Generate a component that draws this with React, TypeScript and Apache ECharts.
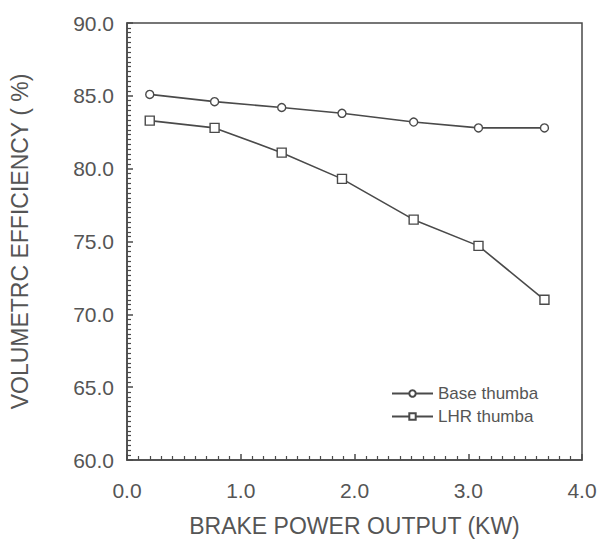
import React, { useEffect, useRef } from "react";
import * as echarts from "echarts";

const powerKW = [0.2, 0.77, 1.36, 1.89, 2.52, 3.09, 3.67];
const baseThumba = [85.1, 84.6, 84.2, 83.8, 83.2, 82.8, 82.8];
const lhrThumba = [83.3, 82.8, 81.1, 79.3, 76.5, 74.7, 71.0];
const seriesNames = ["Base thumba", "LHR thumba"];
const xTitle = "BRAKE POWER OUTPUT (KW)";
const yTitle = "VOLUMETRC EFFICIENCY ( %)";

const FONT = "'Liberation Sans', Arial, sans-serif";
const TEXT = "#555555";
const LINE = "#4a4a4a";

export default function App() {
  const ref = useRef<HTMLDivElement>(null);
  useEffect(() => {
    if (!ref.current) return;
    const chart = echarts.init(ref.current, undefined, { renderer: "svg" });
    const pair = (ys: number[]) => powerKW.map((x, i) => [x, ys[i]]);
    chart.setOption({
      animation: false,
      backgroundColor: "#ffffff",
      textStyle: { fontFamily: FONT },
      grid: {
        left: 125,
        right: 18,
        top: 23,
        bottom: 78,
        show: true,
        borderColor: LINE,
        borderWidth: 1.5,
        backgroundColor: "transparent",
      },
      legend: {
        left: 386,
        top: 380,
        orient: "vertical",
        itemWidth: 41,
        itemHeight: 8,
        itemGap: 6,
        data: seriesNames,
        textStyle: { fontFamily: FONT, fontSize: 17, color: TEXT },
      },
      xAxis: {
        type: "value",
        min: 0,
        max: 4,
        interval: 1,
        name: xTitle,
        nameLocation: "middle",
        nameGap: 54,
        nameTextStyle: { fontFamily: FONT, fontSize: 23, color: TEXT },
        axisLine: { show: true, lineStyle: { color: LINE, width: 1.5 } },
        axisTick: { show: true, inside: true, length: 6, lineStyle: { color: LINE, width: 1.5 } },
        minorTick: { show: true, splitNumber: 10, length: 4, lineStyle: { color: LINE, width: 1.2 } },
        axisLabel: {
          fontFamily: FONT,
          fontSize: 21,
          color: TEXT,
          margin: 20,
          formatter: (v: number) => v.toFixed(1),
        },
        splitLine: { show: false },
      },
      yAxis: {
        type: "value",
        min: 60,
        max: 90,
        interval: 5,
        name: yTitle,
        nameLocation: "middle",
        nameGap: 96,
        nameRotate: 90,
        nameTextStyle: { fontFamily: FONT, fontSize: 23, color: TEXT },
        axisLine: { show: true, lineStyle: { color: LINE, width: 1.5 } },
        axisTick: { show: true, inside: true, length: 6, lineStyle: { color: LINE, width: 1.5 } },
        minorTick: { show: true, splitNumber: 15, length: 4, lineStyle: { color: LINE, width: 1.2 } },
        axisLabel: {
          fontFamily: FONT,
          fontSize: 21,
          color: TEXT,
          margin: 13,
          formatter: (v: number) => v.toFixed(1),
        },
        splitLine: { show: false },
      },
      series: [
        {
          name: seriesNames[0],
          type: "line",
          data: pair(baseThumba),
          symbol: "circle",
          symbolSize: 8,
          lineStyle: { color: LINE, width: 1.6 },
          itemStyle: { color: "#ffffff", borderColor: LINE, borderWidth: 1.4 },
        },
        {
          name: seriesNames[1],
          type: "line",
          data: pair(lhrThumba),
          symbol: "rect",
          symbolSize: 9,
          lineStyle: { color: LINE, width: 1.6 },
          itemStyle: { color: "#ffffff", borderColor: LINE, borderWidth: 1.4 },
        },
      ],
    });
    return () => chart.dispose();
  }, []);
  return (
    <div
      ref={ref}
      style={{ position: "absolute", left: 0, top: 0, width: 600, height: 542 }}
    />
  );
}
